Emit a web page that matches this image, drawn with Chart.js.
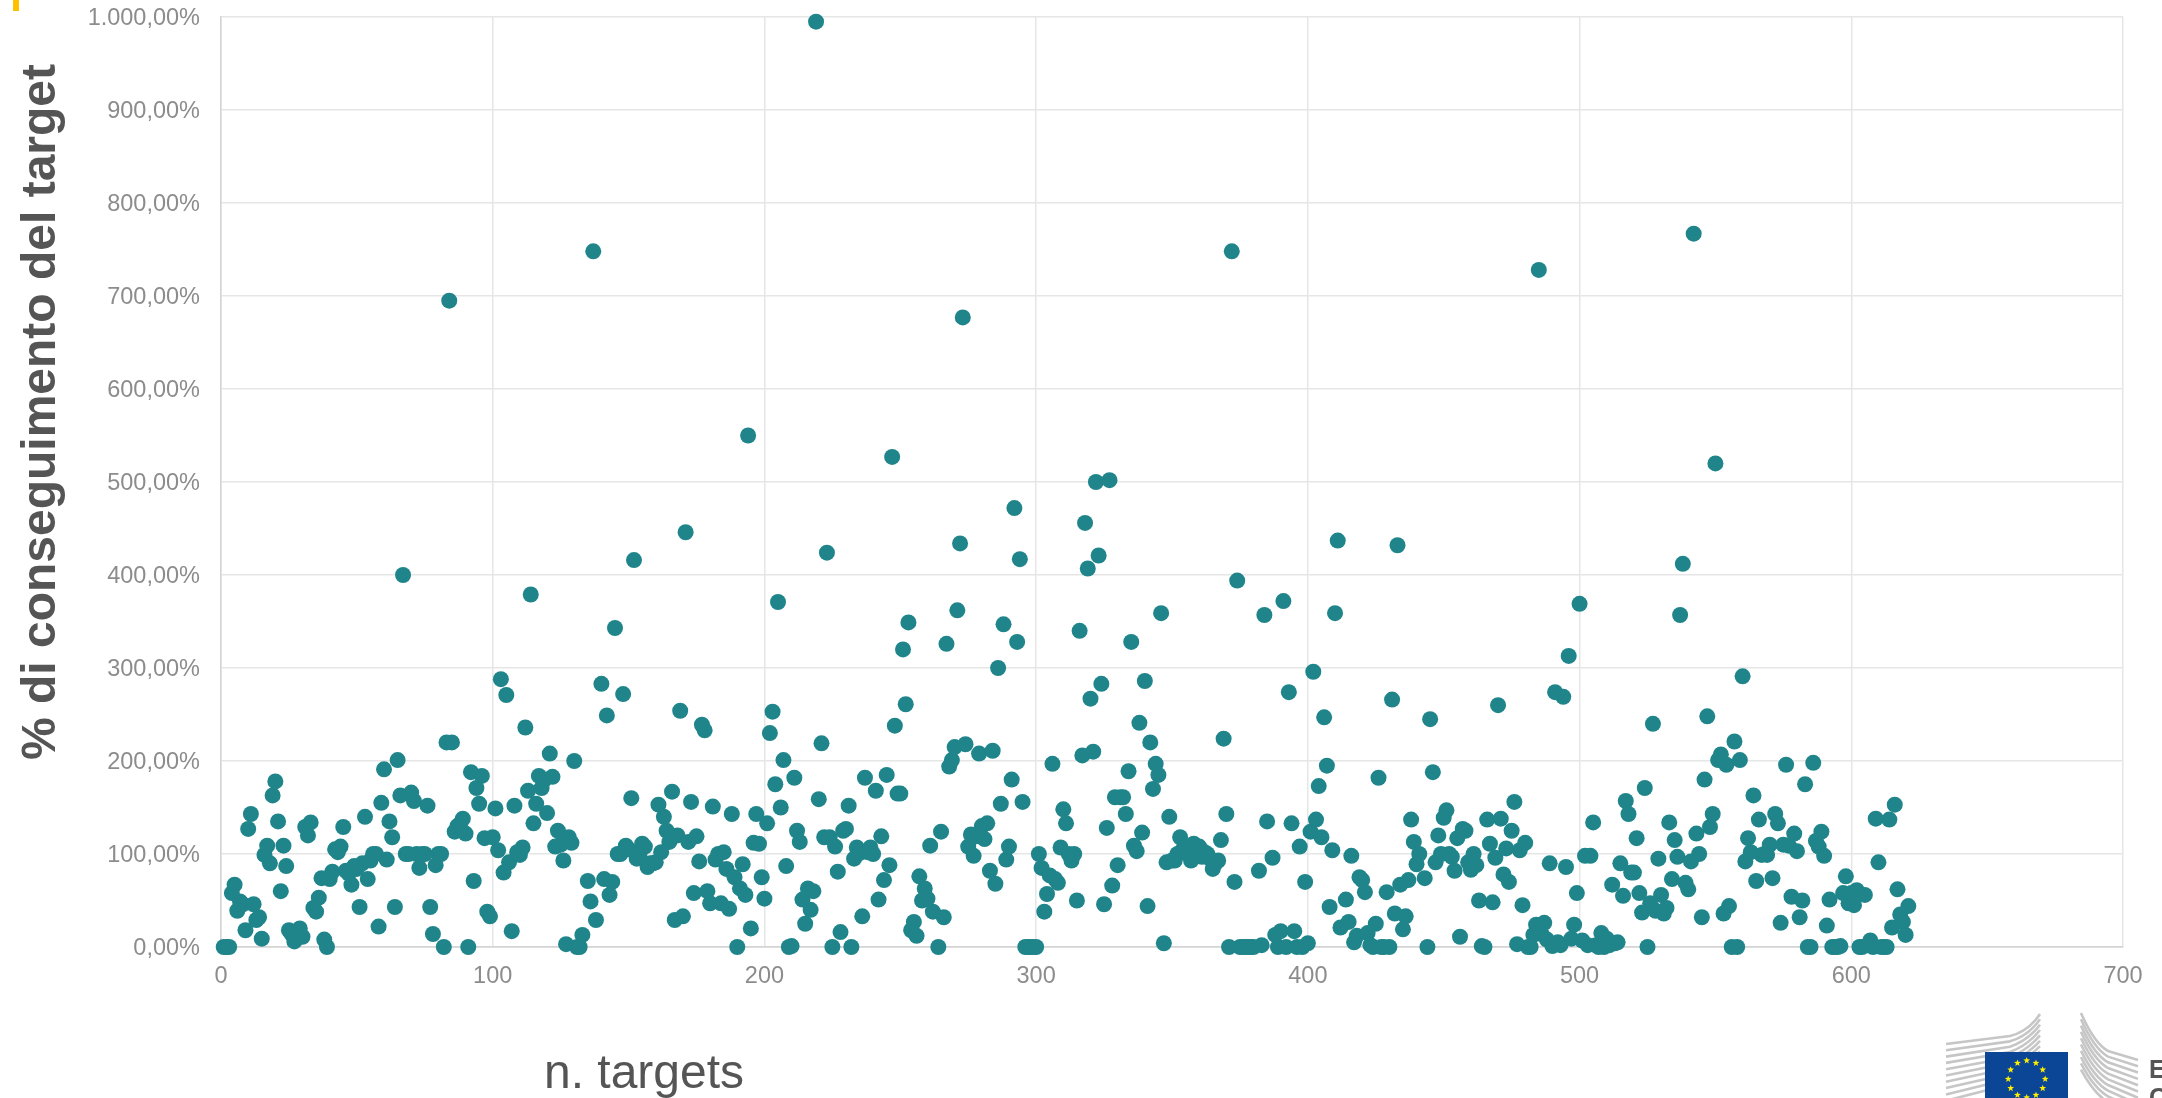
<!DOCTYPE html>
<html lang="it">
<head>
<meta charset="utf-8">
<style>
html,body{margin:0;padding:0;background:#fff;width:2162px;height:1098px;overflow:hidden}
#wrap{position:absolute;left:0;top:0;width:2162px;height:1098px}
#mark{position:absolute;left:13px;top:0;width:6px;height:11px;background:#ffc000}
#logo{position:absolute;left:0;top:0}
</style>
<script src="https://cdn.jsdelivr.net/npm/chart.js@4"></script>
</head>
<body>
<div id="wrap"><canvas id="c" width="2162" height="1098"></canvas></div>
<div id="mark"></div>
<svg id="logo" width="2162" height="1098" xmlns="http://www.w3.org/2000/svg">
  <g id="wingL" fill="none" stroke="#c6c6c6" stroke-width="2.6"></g>
  <g id="wingR" fill="none" stroke="#c6c6c6" stroke-width="2.6"></g>
  <rect x="1985" y="1052" width="83" height="46" fill="#0b4596"/>
  <g id="stars" fill="#ffed00"></g>
  <text x="2149" y="1078" font-family="Liberation Sans" font-weight="700" font-size="25" fill="#555">E</text>
  <text x="2149" y="1106" font-family="Liberation Sans" font-weight="700" font-size="25" fill="#555">C</text>
</svg>
<script>
const xAxisTitle = "n. targets";
const yAxisTitle = "% di conseguimento del target";
const xTicks = [0,100,200,300,400,500,600,700];
const yTicks = [0,100,200,300,400,500,600,700,800,900,1000];
// one value per target number (row 1 = targets 1-10, row 2 = targets 11-20, ...)
const achievementPct = [
0,0,0,58,67,39,49,46,18,127,
143,46,29,32,9,99,109,90,163,178,
135,60,109,87,18,14,6,14,20,11,
129,120,134,42,38,53,74,8,0,73,
81,105,102,108,129,82,79,67,87,84,
43,90,140,73,93,100,100,22,155,191,
94,135,118,43,201,163,400,100,100,166,
157,100,85,100,100,152,43,14,88,100,
100,0,220,695,220,124,130,132,138,122,
0,188,71,171,154,184,117,38,33,118,
149,104,288,80,271,91,17,152,102,99,
107,236,168,379,133,154,184,171,180,144,
208,183,108,125,110,93,3,118,112,200,
0,0,13,null,71,49,748,29,null,283,
73,249,56,70,343,100,100,272,109,105,
160,416,95,100,111,108,86,90,90,91,
153,102,140,125,113,167,29,120,254,33,
446,113,156,58,119,92,239,233,60,47,
151,94,100,47,102,84,41,143,75,0,
63,89,56,550,20,112,143,111,75,52,
133,230,253,175,371,150,201,87,0,1,
182,125,113,51,25,63,40,60,995,159,
219,118,424,118,0,108,81,16,125,127,
152,0,95,107,101,33,182,102,107,100,
168,51,119,72,185,88,527,238,165,165,
320,261,349,18,27,12,76,50,63,52,
109,38,null,0,124,32,326,194,201,215,
362,434,677,218,108,121,98,119,208,130,
116,133,82,211,68,300,154,347,94,108,
180,472,328,417,156,0,0,0,0,0,
100,85,38,57,77,197,73,69,107,148,
133,100,93,100,50,340,206,456,407,267,
210,500,421,283,46,128,502,66,161,88,
161,161,143,189,328,109,103,241,123,286,
44,220,170,197,185,359,4,91,140,93,
93,100,118,105,106,100,93,111,105,108,
97,102,100,95,84,90,93,115,224,143,
0,748,70,394,0,0,0,0,0,0,
null,82,2,357,135,null,96,13,0,17,
372,0,274,133,17,0,108,0,70,4,
124,296,137,173,118,247,195,43,104,359,
437,21,null,51,27,98,5,12,75,72,
59,15,2,0,25,182,0,0,59,0,
266,36,432,67,19,33,72,137,113,89,
100,null,74,0,245,188,91,120,100,139,
147,100,97,82,117,11,127,125,91,83,
100,88,50,1,0,137,111,48,96,260,
138,78,106,70,125,156,3,104,45,112,
0,0,13,24,728,14,26,8,90,1,
274,5,2,269,86,313,9,24,58,369,
7,98,2,98,134,2,0,15,0,9,
2,67,4,5,90,55,157,143,80,80,
117,58,37,171,0,47,240,39,95,56,
36,42,134,73,115,97,357,412,69,62,
92,767,122,100,32,180,248,129,143,520,
201,207,36,196,44,0,221,0,201,291,
92,117,102,163,71,137,99,100,99,110,
74,143,133,26,110,196,109,54,122,103,
32,50,175,0,0,198,114,108,124,98,
23,51,0,0,0,1,58,76,47,58,
45,61,0,0,56,2,7,0,138,91,
0,0,0,137,21,153,62,35,27,13,
44
];
const points = achievementPct
  .map((v,i)=>({x:i+1,y:v}))
  .filter(p=>p.y!==null);

const formatPct = v => v.toLocaleString('de-DE',{minimumFractionDigits:2,maximumFractionDigits:2})+'%';

const titlesPlugin = {
  id:'titles',
  beforeDraw(chart){
    if(chart.$nudged) return;
    chart.$nudged = true;
    chart.scales.y.getLabelItems(chart.chartArea).forEach(it=>{ it.options.translation[1]+=1.5; });
  },
  afterDraw(chart){
    const ctx = chart.ctx;
    ctx.save();
    ctx.fillStyle = '#555555';
    ctx.textAlign = 'center';
    ctx.textBaseline = 'middle';
    ctx.font = '48px "Liberation Sans"';
    ctx.fillText(xAxisTitle, 644, 1075);
    ctx.translate(42, 412);
    ctx.rotate(-Math.PI/2);
    ctx.font = 'bold 48px "Liberation Sans"';
    ctx.fillText(yAxisTitle, 0, 0);
    ctx.restore();
  }
};

new Chart(document.getElementById('c'),{
  type:'scatter',
  data:{datasets:[{
    label:yAxisTitle,
    data:points,
    backgroundColor:'#1f858a',
    borderColor:'#1f858a',
    borderWidth:0,
    pointRadius:8,
    pointHoverRadius:8,
    clip:false
  }]},
  plugins:[titlesPlugin],
  options:{
    responsive:false,
    animation:false,
    events:[],
    layout:{padding:{top:17,right:39,left:0,bottom:0}},
    plugins:{legend:{display:false},tooltip:{enabled:false},title:{display:false}},
    scales:{
      x:{
        type:'linear',min:0,max:700,
        afterFit(s){s.height=151;s.paddingLeft=0;s.paddingRight=0;},
        afterBuildTicks(s){s.ticks=xTicks.map(v=>({value:v}));},
        border:{color:'#d4d4d4',width:1.5},
        grid:{color:'#e6e6e6',lineWidth:1.5,drawTicks:false},
        ticks:{color:'#8c8c8c',padding:15,maxRotation:0,autoSkip:false,font:{family:'"Liberation Sans"',size:23.5}}
      },
      y:{
        type:'linear',min:0,max:1000,
        afterFit(s){s.width=221;s.paddingTop=0;s.paddingBottom=0;},
        afterBuildTicks(s){s.ticks=yTicks.map(v=>({value:v}));},
        border:{color:'#d4d4d4',width:1.5},
        grid:{color:c=>c.tick.value===0?'#d4d4d4':'#e6e6e6',lineWidth:1.5,drawTicks:false},
        ticks:{color:'#8c8c8c',padding:21,autoSkip:false,callback:v=>formatPct(v),font:{family:'"Liberation Sans"',size:23.5}}
      }
    }
  }
});

// European Commission logo decoration
const NS='http://www.w3.org/2000/svg';
const wingL=document.getElementById('wingL'), wingR=document.getElementById('wingR'), starsG=document.getElementById('stars');
for(let i=0;i<10;i++){
  const p=document.createElementNS(NS,'path');
  const d=i*6.3;
  p.setAttribute('d',`M1946 ${1044+d} L2010 ${1036+d*0.85} Q2028 ${1032+d*0.7} 2040 ${1014+d*0.85}`);
  wingL.appendChild(p);
  const q=document.createElementNS(NS,'path');
  q.setAttribute('d',`M2081 ${1013+d} Q2094 ${1043+d*0.9} 2108 ${1051+d*0.9} L2138 ${1060+d}`);
  wingR.appendChild(q);
}
for(let k=0;k<12;k++){
  const a=k*Math.PI/6, cx=2026.7+18.5*Math.sin(a), cy=1079-18.5*Math.cos(a);
  let pts=[];
  for(let j=0;j<10;j++){
    const r=j%2?1.5:3.6, b=j*Math.PI/5;
    pts.push((cx+r*Math.sin(b)).toFixed(1)+','+(cy-r*Math.cos(b)).toFixed(1));
  }
  const s=document.createElementNS(NS,'polygon');
  s.setAttribute('points',pts.join(' '));
  starsG.appendChild(s);
}
</script>
</body>
</html>
